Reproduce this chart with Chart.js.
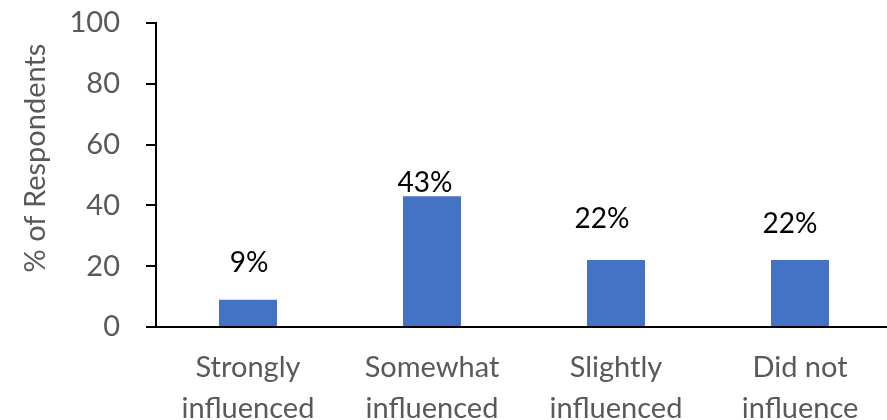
<!DOCTYPE html>
<html>
<head>
<meta charset="utf-8">
<script src="https://cdn.jsdelivr.net/npm/chart.js@4/dist/chart.umd.min.js"></script>
<style>
  html, body { margin: 0; padding: 0; background: #fff; overflow: hidden; }
  #wrap { width: 892px; height: 420px; position: relative; }
</style>
</head>
<body>
<div id="wrap"><canvas id="chart"></canvas></div>
<script>
// Survey answers: how much respondents were influenced
const categories = [
  ['Strongly', 'influenced'],
  ['Somewhat', 'influenced'],
  ['Slightly', 'influenced'],
  ['Did not', 'influence']
];
const respondents = [9, 43, 22, 22];
const yAxisTitle = '% of Respondents';
const yMin = 0;
const yMax = 100;
const yStep = 20;

// Hand-placed value labels: offset of each label's centre from its bar top
const labelNudge = [[1, -37], [-7, -13], [-14, -41], [-10, -36]];

const FONT = 'Lato, "Open Sans", sans-serif';
const GREY = '#595959';

const valueLabels = {
  id: 'valueLabels',
  afterDatasetsDraw(chart) {
    const ctx = chart.ctx;
    const meta = chart.getDatasetMeta(0);
    ctx.save();
    ctx.font = '28px ' + FONT;
    ctx.fillStyle = '#000';
    ctx.textAlign = 'center';
    ctx.textBaseline = 'middle';
    meta.data.forEach((bar, i) => {
      const v = chart.data.datasets[0].data[i];
      const [dx, dy] = labelNudge[i];
      ctx.fillText(v + '%', bar.x + dx, bar.y + dy);
    });
    ctx.restore();
  }
};

const yTitle = {
  id: 'yTitle',
  afterDraw(chart) {
    const ctx = chart.ctx;
    ctx.save();
    ctx.translate(36, 158);
    ctx.rotate(-Math.PI / 2);
    ctx.font = '29px ' + FONT;
    ctx.fillStyle = GREY;
    ctx.textAlign = 'center';
    ctx.textBaseline = 'middle';
    ctx.fillText(yAxisTitle, 0, 0);
    ctx.restore();
  }
};

new Chart(document.getElementById('chart'), {
  type: 'bar',
  data: {
    labels: categories,
    datasets: [{
      data: respondents,
      backgroundColor: '#4472C4',
      borderWidth: 0,
      barPercentage: 1,
      categoryPercentage: 0.315
    }]
  },
  options: {
    responsive: true,
    maintainAspectRatio: false,
    animation: false,
    layout: { padding: { top: 23, right: 0, bottom: 0, left: 0 } },
    plugins: { legend: { display: false }, tooltip: { enabled: false } },
    scales: {
      x: {
        afterFit(scale) { scale.height = 93; },
        grid: { display: false, drawTicks: false },
        border: { display: true, color: '#000', width: 2 },
        ticks: {
          color: GREY,
          font: { family: FONT, size: 29, lineHeight: 1.42 },
          padding: 20,
          maxRotation: 0,
          autoSkip: false
        }
      },
      y: {
        min: yMin,
        max: yMax,
        afterFit(scale) {
          scale.width = 156;
          scale.paddingTop = 0;
          scale.paddingBottom = 0;
        },
        grid: {
          drawOnChartArea: false,
          drawTicks: true,
          tickLength: 10,
          color: '#000',
          lineWidth: 2
        },
        border: { display: true, color: '#000', width: 2 },
        ticks: {
          stepSize: yStep,
          color: GREY,
          font: { family: FONT, size: 29 },
          padding: 26
        }
      }
    }
  },
  plugins: [valueLabels, yTitle]
});
</script>
</body>
</html>
